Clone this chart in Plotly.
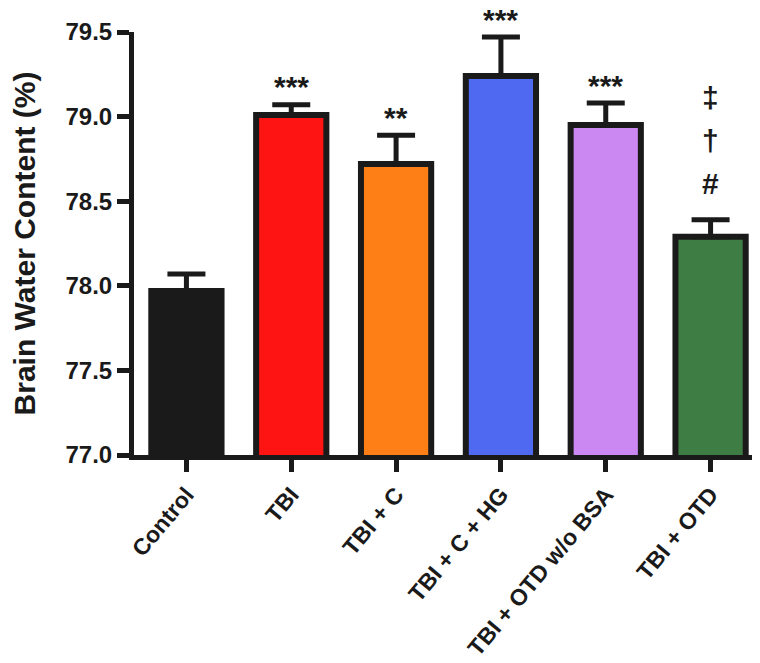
import plotly.graph_objects as go

groups = ["Control", "TBI", "TBI + C", "TBI + C + HG", "TBI + OTD w/o BSA", "TBI + OTD"]
means = [77.97, 79.01, 78.72, 79.24, 78.95, 78.29]
sem = [0.10, 0.06, 0.17, 0.23, 0.13, 0.10]
colors = ["#1a1a1a", "#ff1414", "#ff7f17", "#4f6af0", "#cc88f2", "#3e7e44"]
sig = ["", "***", "**", "***", "***", ""]
otd_marks = ["#", "†", "‡"]
yticks = [77.0, 77.5, 78.0, 78.5, 79.0, 79.5]

font_family = "Arial, Liberation Sans, Helvetica, sans-serif"
ink = "#1a1a1a"

fig = go.Figure()
fig.add_trace(go.Bar(
    x=groups, y=means,
    marker=dict(color=colors, line=dict(color=ink, width=6)),
    width=0.67,
    error_y=dict(type="data", array=sem, arrayminus=[0] * len(sem), symmetric=False,
                 color=ink, thickness=5, width=19),
))

# significance stars above error bars
for g, m, e, s in zip(groups, means, sem, sig):
    if s:
        fig.add_annotation(x=g, y=m + e, text="<b>" + s + "</b>", showarrow=False,
                           yanchor="middle", yshift=18,
                           font=dict(family=font_family, size=30, color=ink))

for i, s in enumerate(otd_marks):
    fig.add_annotation(x=groups[-1], y=means[-1] + sem[-1], text="<b>" + s + "</b>", showarrow=False,
                       yanchor="middle", yshift=36 + 43 * i,
                       font=dict(family=font_family, size=30, color=ink))

fig.update_layout(
    width=760, height=663,
    plot_bgcolor="white", paper_bgcolor="white",
    showlegend=False,
    margin=dict(l=126, r=5, t=24, b=216),
    font=dict(family=font_family, color=ink),
)
fig.update_xaxes(
    range=[-0.5, 5.5], showline=True, linecolor=ink, linewidth=5,
    ticks="outside", ticklen=12, tickwidth=5, tickcolor=ink,
    tickangle=-50, tickfont=dict(size=23, family=font_family),
    tickvals=groups, ticktext=["<b>" + g + "</b>" for g in groups],
    showgrid=False, zeroline=False,
)
fig.update_yaxes(
    range=[77.0, 79.5], showline=True, linecolor=ink, linewidth=5,
    ticks="outside", ticklen=12, tickwidth=5, tickcolor=ink,
    tickvals=yticks, ticktext=["<b>%.1f</b>" % v for v in yticks],
    tickfont=dict(size=24, family=font_family),
    title=dict(text="<b>Brain Water Content (%)</b>", font=dict(size=30, family=font_family), standoff=24),
    showgrid=False, zeroline=False,
)

fig.write_html("out.html")
